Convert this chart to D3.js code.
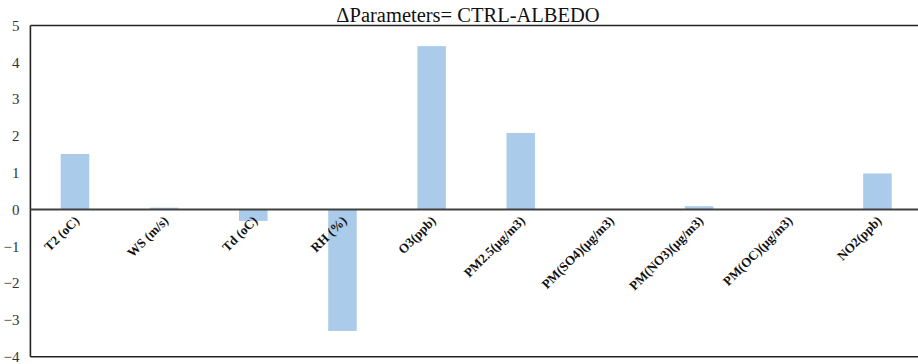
<!DOCTYPE html>
<html>
<head>
<meta charset="utf-8">
<script src="https://cdn.jsdelivr.net/npm/d3@7/dist/d3.min.js"></script>
<style>
  html, body { margin: 0; padding: 0; background: #fff; }
  svg { display: block; }
  text { font-family: 'Liberation Serif', 'Times New Roman', 'DejaVu Serif', serif; }
</style>
</head>
<body>
<svg id="chart" width="918" height="364"></svg>
<script>
// Differences of model parameters between CTRL and ALBEDO runs
const categories = ["T2 (oC)", "WS (m/s)", "Td (oC)", "RH (%)", "O3(ppb)",
  "PM2.5(μg/m3)", "PM(SO4)(μg/m3)", "PM(NO3)(μg/m3)", "PM(OC)(μg/m3)", "NO2(ppb)"];
const deltas = [1.51, 0.05, -0.31, -3.30, 4.44, 2.08, 0.01, 0.09, 0.00, 0.98];
const yTicks = [5, 4, 3, 2, 1, 0, -1, -2, -3, -4];
const titleText = "ΔParameters= CTRL-ALBEDO";

const svg = d3.select("#chart");
const plotLeft = 30.4, plotTop = 25.5, plotBottom = 356.7, plotRight = 922;

const x = d3.scaleBand().domain(categories).range([plotLeft, plotRight]).paddingInner(0.68).paddingOuter(0.34);
const y = d3.scaleLinear().domain([-4, 5]).range([plotBottom, plotTop]);

// bars
svg.append("g").selectAll("rect").data(deltas).join("rect")
  .attr("x", (d, i) => x(categories[i]))
  .attr("width", x.bandwidth())
  .attr("y", d => y(Math.max(0, d)))
  .attr("height", d => Math.abs(y(d) - y(0)))
  .attr("fill", "#abcbea");

// frame: left, top and bottom edges
const frame = svg.append("g").attr("stroke", "#222").attr("stroke-width", 1.6).attr("fill", "none");
frame.append("line").attr("x1", plotLeft).attr("x2", plotLeft).attr("y1", plotTop).attr("y2", plotBottom);
frame.append("line").attr("x1", plotLeft).attr("x2", 918).attr("y1", plotTop).attr("y2", plotTop);
frame.append("line").attr("x1", plotLeft).attr("x2", 918).attr("y1", plotBottom).attr("y2", plotBottom);

// zero line
svg.append("line").attr("x1", plotLeft).attr("x2", 918)
  .attr("y1", y(0)).attr("y2", y(0))
  .attr("stroke", "#404040").attr("stroke-width", 2);

// y axis labels
const yAxis = d3.axisLeft(y).tickValues(yTicks).tickSize(0).tickPadding(11).tickFormat(d3.format("d"));
const ya = svg.append("g").attr("transform", `translate(${plotLeft},0)`).call(yAxis);
ya.select(".domain").remove();
ya.attr("font-family", null);
ya.selectAll("text").attr("font-size", 15).attr("fill", "#333");

// category labels, rotated
svg.append("g").selectAll("text").data(categories).join("text")
  .attr("transform", d => `translate(${x(d) + x.bandwidth() / 2 + 5},${y(0) + 12}) rotate(-45)`)
  .attr("text-anchor", "end")
  .attr("font-weight", "bold")
  .attr("font-size", 13)
  .attr("fill", "#111")
  .text(d => d);

// title
svg.append("text").attr("x", 468).attr("y", 22)
  .attr("text-anchor", "middle")
  .attr("font-size", 20.5)
  .attr("fill", "#111")
  .text(titleText);
</script>
</body>
</html>
